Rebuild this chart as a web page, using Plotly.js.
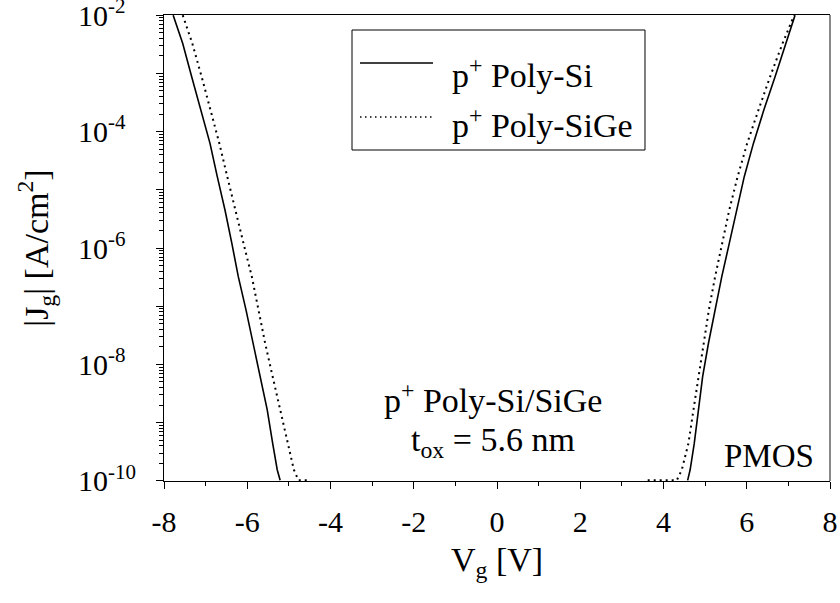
<!DOCTYPE html>
<html><head><meta charset="utf-8">
<script src="https://cdn.plot.ly/plotly-3.0.1.min.js"></script>
<style>html,body{margin:0;padding:0;background:#fff}</style>
</head><body>
<div id="chart" style="width:840px;height:603px"></div>
<script>
// Series names
const seriesNames = ['p<sup>+</sup> Poly-Si', 'p<sup>+</sup> Poly-SiGe'];

// Gate current density levels (A/cm^2)
const jDesc = [1.0e-2, 3.27e-3, 8.73e-4, 2.34e-4, 6.27e-5, 1.68e-5, 4.49e-6, 1.20e-6,
               3.22e-7, 8.63e-8, 2.31e-8, 6.18e-9, 1.66e-9, 4.44e-10, 1.55e-10, 1.02e-10];
const jAsc  = [1.02e-10, 1.55e-10, 4.44e-10, 1.66e-9, 6.18e-9, 2.31e-8, 8.63e-8, 3.22e-7,
               1.20e-6, 4.49e-6, 1.68e-5, 6.27e-5, 2.34e-4, 8.73e-4, 3.27e-3, 1.0e-2];

// p+ Poly-Si (solid)
const siLeftV  = [-7.78, -7.55, -7.335, -7.12, -6.895, -6.72, -6.535, -6.37,
                  -6.215, -6.03, -5.855, -5.69, -5.52, -5.39, -5.28, -5.21];
const siRightV = [4.58, 4.64, 4.74, 4.84, 4.94, 5.08, 5.24, 5.40,
                  5.58, 5.76, 5.94, 6.16, 6.41, 6.68, 6.94, 7.16];

// p+ Poly-SiGe (dotted)
const sigeLeftV  = [-7.55, -7.32, -7.095, -6.88, -6.67, -6.48, -6.29, -6.09,
                    -5.89, -5.73, -5.57, -5.39, -5.21, -5.04, -4.88, -4.77];
const sigeLeftTailV = [-4.65, -4.54];
const sigeLeftTailJ = [1.02e-10, 1.02e-10];
const sigeRightTailV = [3.62, 3.9, 4.1];
const sigeRightTailJ = [1.02e-10, 1.02e-10, 1.02e-10];
const sigeRightV = [4.32, 4.44, 4.60, 4.72, 4.84, 4.96, 5.09, 5.24,
                    5.41, 5.58, 5.78, 6.01, 6.28, 6.56, 6.86, 7.14];

// Axis tick labels (en space pads one-digit exponents so labels line up on the left)
const xTickVals = [-8, -6, -4, -2, 0, 2, 4, 6, 8];
const xTickText = ['-8', '-6', '-4', '-2', '0', '2', '4', '6', '8'];
const yTickVals = [1e-10, 1e-9, 1e-8, 1e-7, 1e-6, 1e-5, 1e-4, 1e-3, 1e-2];
const yTickText = ['10<sup>-10</sup>', '', '10<sup>-8\u2002</sup>', '', '10<sup>-6\u2002</sup>', '',
                   '10<sup>-4\u2002</sup>', '', '10<sup>-2\u2002</sup>'];

const yMinor = [];
for (let e = -10; e < -2; e++) for (let m = 2; m <= 9; m++) yMinor.push(m * Math.pow(10, e));

const FONT = '"Liberation Serif", "DejaVu Serif", serif';
const FT = 30;   // tick labels
const FS = 34;   // axis titles
const FA = 34;   // legend and annotations

const traceSi = {
  x: [...siLeftV, null, ...siRightV],
  y: [...jDesc, null, ...jAsc],
  mode: 'lines', name: seriesNames[0], showlegend: false,
  line: {color: '#000', width: 1.6}, connectgaps: false
};
const traceSiGe = {
  x: [...sigeLeftV, ...sigeLeftTailV, null, ...sigeRightTailV, ...sigeRightV],
  y: [...jDesc, ...sigeLeftTailJ, null, ...sigeRightTailJ, ...jAsc],
  mode: 'lines', name: seriesNames[1], showlegend: false,
  line: {color: '#000', width: 2, dash: '2px,4px'}, connectgaps: false
};

// legend box geometry (paper coordinates)
const LG = {x0: 0.2823, x1: 0.7222, y0: 0.7103, y1: 0.9678,
            sx0: 0.2943, sx1: 0.4039, tx: 0.4294,
            l1: 0.8970, l2: 0.7811, r1: 0.8763, r2: 0.7693};

const layout = {
  width: 840, height: 603,
  margin: {l: 164, r: 10, t: 15, b: 122},
  paper_bgcolor: '#fff', plot_bgcolor: '#fff',
  font: {family: FONT, size: FT, color: '#000'},
  showlegend: false,
  xaxis: {
    range: [-8, 8], tickmode: 'array', tickvals: xTickVals, ticktext: xTickText,
    ticks: 'outside', ticklen: 7, tickwidth: 1, tickcolor: '#000',
    minor: {ticks: 'outside', ticklen: 4, dtick: 1, tick0: 0, tickcolor: '#000'},
    showline: true, linecolor: '#000', linewidth: 1, mirror: true,
    showgrid: false, zeroline: false, ticklabelstandoff: 7, ticklabeloverflow: 'allow',
    tickfont: {family: FONT, size: FT},
    title: {text: 'V<sub>g</sub> [V]', font: {family: FONT, size: FS}, standoff: 10}
  },
  yaxis: {
    type: 'log', range: [-10.003, -1.997], tickmode: 'array', tickvals: yTickVals, ticktext: yTickText,
    ticks: 'outside', ticklen: 7, tickwidth: 1, tickcolor: '#000',
    minor: {ticks: 'outside', ticklen: 4, tickmode: 'array', tickvals: yMinor, tickcolor: '#000'},
    showline: true, linecolor: '#000', linewidth: 1,
    showgrid: false, zeroline: false, ticklabelstandoff: 14, ticklabeloverflow: 'allow',
    tickfont: {family: FONT, size: FT},
    title: {text: '|J<sub>g</sub>| [A/cm<sup>2</sup>]', font: {family: FONT, size: FS}, standoff: 19}
  },
  shapes: [
    {type: 'line', xref: 'paper', yref: 'paper', x0: 1, x1: 1, y0: 0, y1: 1,
     line: {color: '#888', width: 2}},
    {type: 'rect', xref: 'paper', yref: 'paper', x0: LG.x0, x1: LG.x1, y0: LG.y0, y1: LG.y1,
     line: {color: '#000', width: 1}, fillcolor: '#fff'},
    {type: 'line', xref: 'paper', yref: 'paper', x0: LG.sx0, x1: LG.sx1, y0: LG.l1, y1: LG.l1,
     line: {color: '#000', width: 1.4}},
    {type: 'line', xref: 'paper', yref: 'paper', x0: LG.sx0, x1: LG.sx1, y0: LG.l2, y1: LG.l2,
     line: {color: '#000', width: 1.4, dash: '1.5px,3.5px'}}
  ],
  annotations: [
    {xref: 'paper', yref: 'paper', x: LG.tx, y: LG.r1, xanchor: 'left', yanchor: 'middle',
     text: seriesNames[0], showarrow: false, font: {family: FONT, size: FA}},
    {xref: 'paper', yref: 'paper', x: LG.tx, y: LG.r2, xanchor: 'left', yanchor: 'middle',
     text: seriesNames[1], showarrow: false, font: {family: FONT, size: FA}},
    {xref: 'x', yref: 'y', x: -0.1, y: -8.58, text: 'p<sup>+</sup> Poly-Si/SiGe',
     showarrow: false, font: {family: FONT, size: FA}},
    {xref: 'x', yref: 'y', x: -0.1, y: -9.33, text: 't<sub>ox</sub> = 5.6 nm',
     showarrow: false, font: {family: FONT, size: FA}},
    {xref: 'x', yref: 'y', x: 6.53, y: -9.57, text: 'PMOS',
     showarrow: false, font: {family: FONT, size: 33}}
  ]
};

Plotly.newPlot('chart', [traceSi, traceSiGe], layout, {staticPlot: true, displayModeBar: false});
</script>
</body></html>
